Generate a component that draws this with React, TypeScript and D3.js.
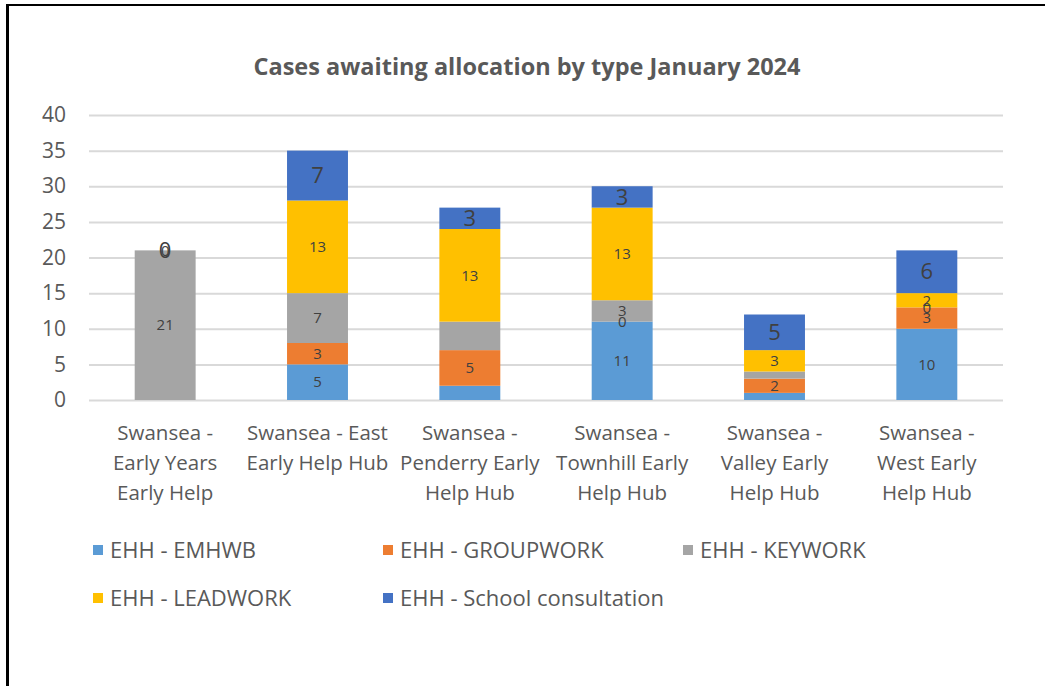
import React, { useEffect, useRef } from 'react';
import * as d3 from 'd3';

const categories = [
  'Swansea - Early Years Early Help',
  'Swansea - East Early Help Hub',
  'Swansea - Penderry Early Help Hub',
  'Swansea - Townhill Early Help Hub',
  'Swansea - Valley Early Help Hub',
  'Swansea - West Early Help Hub',
];
// how Excel wrapped the axis labels
const categoryLines = [
  ['Swansea -', 'Early Years', 'Early Help'],
  ['Swansea - East', 'Early Help Hub'],
  ['Swansea -', 'Penderry Early', 'Help Hub'],
  ['Swansea -', 'Townhill Early', 'Help Hub'],
  ['Swansea -', 'Valley Early', 'Help Hub'],
  ['Swansea -', 'West Early', 'Help Hub'],
];

const seriesNames = [
  'EHH - EMHWB',
  'EHH - GROUPWORK',
  'EHH - KEYWORK',
  'EHH - LEADWORK',
  'EHH - School consultation',
];
const seriesColors = ['#5b9bd5', '#ed7d31', '#a5a5a5', '#ffc000', '#4472c4'];

// null = no value in source
const emhwb = [null, 5, 2, 11, 1, 10];
const groupwork = [null, 3, 5, 0, 2, 3];
const keywork = [21, 7, 4, 3, 1, 0];
const leadwork = [0, 13, 13, 13, 3, 2];
const schoolConsultation = [0, 7, 3, 3, 5, 6];
const seriesValues = [emhwb, groupwork, keywork, leadwork, schoolConsultation];

// data labels that the original doesn't show: [series index, category index]
const hiddenLabels = [[0, 2], [2, 2], [0, 4], [2, 4]];

const yTicks = [0, 5, 10, 15, 20, 25, 30, 35, 40];

const FONT = '"Open Sans", Lato, sans-serif';
const TEXT = '#595959';

const App: React.FC = () => {
  const svgRef = useRef<SVGSVGElement>(null);

  useEffect(() => {
    if (!svgRef.current) return;
    const svg = d3.select(svgRef.current);
    svg.selectAll('*').remove();

    const width = 1046;
    const height = 686;
    const margin = { top: 115, left: 89, right: 43, bottom: 286 };

    svg.append('rect').attr('width', width).attr('height', height).attr('fill', '#fff');

    // frame of the screenshot
    svg.append('line').attr('x1', 6).attr('x2', 1045).attr('y1', 5).attr('y2', 5)
      .attr('stroke', '#000').attr('stroke-width', 2);
    svg.append('line').attr('x1', 7.5).attr('x2', 7.5).attr('y1', 4).attr('y2', height)
      .attr('stroke', '#000').attr('stroke-width', 3);

    const x = d3.scaleBand()
      .domain(categories)
      .range([margin.left, width - margin.right])
      .paddingInner(0.6)
      .paddingOuter(0.3);

    const y = d3.scaleLinear()
      .domain([0, 40])
      .range([height - margin.bottom, margin.top]);

    // title
    svg.append('text')
      .attr('x', 527)
      .attr('y', 75)
      .attr('text-anchor', 'middle')
      .attr('font-family', FONT)
      .attr('font-weight', 'bold')
      .attr('font-size', 23.5)
      .attr('fill', TEXT)
      .text('Cases awaiting allocation by type January 2024');

    // gridlines + y axis
    const yAxis = svg.append('g')
      .attr('transform', `translate(${margin.left},0)`)
      .call(d3.axisLeft(y).tickValues(yTicks).tickSize(-(width - margin.left - margin.right)).tickPadding(23));
    yAxis.select('.domain').remove();
    yAxis.selectAll('line').attr('stroke', '#d9d9d9').attr('stroke-width', 2);
    yAxis.selectAll('text')
      .attr('font-family', FONT)
      .attr('font-size', 21)
      .attr('fill', TEXT);

    // stacked data
    const rows = categories.map((c, i) => {
      const r: any = { category: c };
      seriesNames.forEach((s, k) => { r[s] = seriesValues[k][i] ?? 0; });
      return r;
    });
    const stacked = d3.stack<any>().keys(seriesNames)(rows);

    const gBars = svg.append('g');
    stacked.forEach((layer, k) => {
      gBars.selectAll(null)
        .data(layer.map((d, i) => ({ d, i })).filter(o => seriesValues[k][o.i] !== null && o.d[1] > o.d[0]))
        .enter()
        .append('rect')
        .attr('x', o => x(categories[o.i]) || 0)
        .attr('width', x.bandwidth())
        .attr('y', o => y(o.d[1]))
        .attr('height', o => y(o.d[0]) - y(o.d[1]))
        .attr('fill', seriesColors[k]);
    });

    // data labels
    const gLabels = svg.append('g');
    stacked.forEach((layer, k) => {
      layer.forEach((d, i) => {
        const v = seriesValues[k][i];
        if (v === null) return;
        if (hiddenLabels.some(h => h[0] === k && h[1] === i)) return;
        const big = k === 4;
        gLabels.append('text')
          .attr('x', (x(categories[i]) || 0) + x.bandwidth() / 2)
          .attr('y', y((d[0] + d[1]) / 2))
          .attr('dy', '0.35em')
          .attr('text-anchor', 'middle')
          .attr('font-family', FONT)
          .attr('font-size', big ? 22 : 15)
          .attr('fill', '#404040')
          .text(String(v));
      });
    });

    // x labels
    const gx = svg.append('g');
    categoryLines.forEach((lines, i) => {
      const cx = (x(categories[i]) || 0) + x.bandwidth() / 2;
      lines.forEach((ln, j) => {
        gx.append('text')
          .attr('x', cx)
          .attr('y', 440 + j * 30)
          .attr('text-anchor', 'middle')
          .attr('font-family', FONT)
          .attr('font-size', 20.5)
          .attr('fill', TEXT)
          .text(ln);
      });
    });

    // legend
    const legendPos = [[98, 550], [388, 550], [688, 550], [98, 598], [388, 598]];
    const gLeg = svg.append('g');
    seriesNames.forEach((s, k) => {
      const [lx, ly] = legendPos[k];
      gLeg.append('rect')
        .attr('x', lx - 5).attr('y', ly - 5)
        .attr('width', 10).attr('height', 10)
        .attr('fill', seriesColors[k]);
      gLeg.append('text')
        .attr('x', lx + 12)
        .attr('y', ly)
        .attr('dy', '0.35em')
        .attr('font-family', FONT)
        .attr('font-size', 22)
        .attr('fill', TEXT)
        .text(s);
    });
  }, []);

  return (
    <svg
      ref={svgRef}
      width={1046}
      height={686}
      style={{ position: 'absolute', left: 0, top: 0, display: 'block' }}
    />
  );
};

export default App;
